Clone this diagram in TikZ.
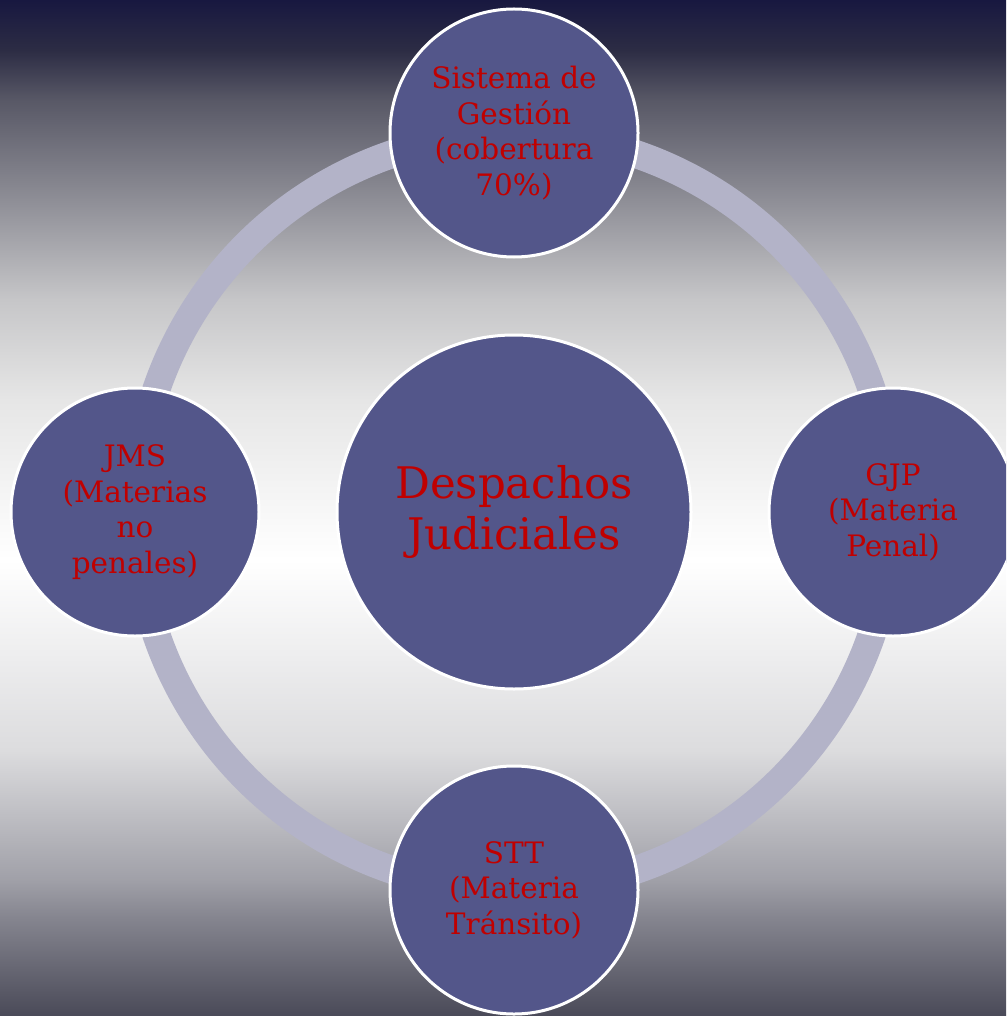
\documentclass[tikz,border=0pt]{standalone}
\usepackage{fontspec}
\setmainfont{DejaVu Serif}
\definecolor{bgA}{RGB}{24,24,64}
\definecolor{bgB}{RGB}{44,44,68}
\definecolor{bgC}{RGB}{88,88,102}
\definecolor{bgD}{RGB}{142,142,150}
\definecolor{bgE}{RGB}{198,198,200}
\definecolor{bgF}{RGB}{230,230,230}
\definecolor{bgG}{RGB}{255,255,255}
\definecolor{bgH}{RGB}{220,220,222}
\definecolor{bgI}{RGB}{160,160,168}
\definecolor{bgJ}{RGB}{134,134,144}
\definecolor{bgK}{RGB}{74,74,88}
\definecolor{ringcol}{RGB}{179,179,200}
\definecolor{circfill}{RGB}{83,86,138}
\definecolor{txtred}{RGB}{192,0,0}
\pgfdeclareverticalshading{bgshade}{100bp}{color(0bp)=(bgK); color(25bp)=(bgK); color(29.92bp)=(bgJ); color(31.69bp)=(bgI); color(38.09bp)=(bgH); color(47.44bp)=(bgG); color(55.31bp)=(bgF); color(60.24bp)=(bgE); color(65.16bp)=(bgD); color(70.08bp)=(bgC); color(72.54bp)=(bgB); color(75bp)=(bgA); color(100bp)=(bgA)}
\tikzset{
  bubble/.style={circle, draw=white, line width=3pt, fill=circfill, text=txtred, align=center, inner sep=0pt},
  sat/.style={bubble, minimum size=248pt, font=\fontsize{29.5}{35.5}\selectfont},
  hub/.style={bubble, minimum size=354pt, font=\fontsize{43.5}{51}\selectfont},
  ring/.style={draw=ringcol, line width=28pt}
}
\begin{document}
\begin{tikzpicture}[x=1pt,y=-1pt]
\useasboundingbox (0,0) rectangle (1006,1016);
\clip (0,0) rectangle (1006,1016);
\shade[shading=bgshade] (0,0) rectangle (1006,1016);
\coordinate (ctr) at (514,512);
\draw[ring] (ctr) circle[radius=378pt];
\node[hub] (hub) at (ctr) {Despachos\\Judiciales};
\node[sat] (top) at (514,133) {Sistema de\\Gestión\\(cobertura\\70\%)};
\node[sat] (left) at (135,512) {JMS\\(Materias\\no\\penales)};
\node[sat] (right) at (893,512) {GJP\\(Materia\\Penal)};
\node[sat] (bottom) at (514,890) {STT\\(Materia\\Tránsito)};
\end{tikzpicture}
\end{document}
